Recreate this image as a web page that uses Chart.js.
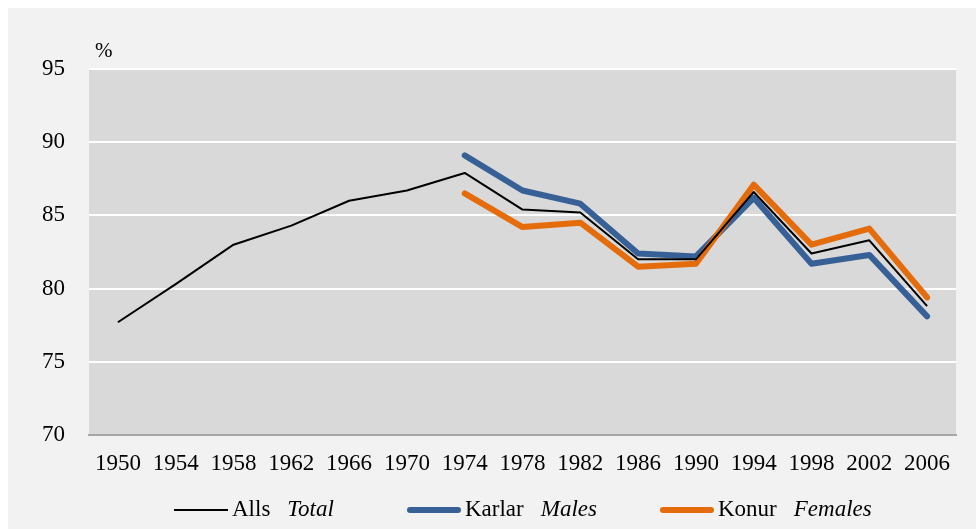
<!DOCTYPE html>
<html>
<head>
<meta charset="utf-8">
<script src="https://cdn.jsdelivr.net/npm/chart.js@4/dist/chart.umd.min.js"></script>
<style>
  html, body { margin: 0; padding: 0; background: #ffffff; }
  #wrap { width: 978px; height: 529px; position: relative; }
</style>
</head>
<body>
<div id="wrap"><canvas id="chart"></canvas></div>
<script>
// data
var years = ['1950','1954','1958','1962','1966','1970','1974','1978','1982','1986','1990','1994','1998','2002','2006'];
var total = [77.7, 80.3, 83.0, 84.3, 86.0, 86.7, 87.9, 85.4, 85.2, 82.0, 82.0, 86.6, 82.4, 83.3, 78.8];
var males = [null, null, null, null, null, null, 89.1, 86.7, 85.8, 82.4, 82.2, 86.2, 81.7, 82.3, 78.1];
var females = [null, null, null, null, null, null, 86.5, 84.2, 84.5, 81.5, 81.7, 87.1, 83.0, 84.1, 79.4];
var namesIs = ['Alls', 'Karlar', 'Konur'];
var namesEn = ['Total', 'Males', 'Females'];
var yTicks = [70, 75, 80, 85, 90, 95];

var serif = '"Liberation Serif", "Times New Roman", serif';

// panel + grey plot area behind the lines
var plotBg = {
  id: 'plotBg',
  beforeDraw: function(chart) {
    var a = chart.chartArea, ctx = chart.ctx;
    ctx.save();
    ctx.fillStyle = '#ffffff';
    ctx.fillRect(0, 0, chart.width, chart.height);
    ctx.fillStyle = '#f2f2f2';
    ctx.fillRect(8, 8, chart.width - 10, chart.height - 8);
    ctx.fillStyle = '#d9d9d9';
    ctx.fillRect(a.left, a.top, a.right - a.left, a.bottom - a.top);
    ctx.restore();
  }
};

// "%" unit + two-language legend
var extras = {
  id: 'extras',
  afterDraw: function(chart) {
    var ctx = chart.ctx, a = chart.chartArea;
    ctx.save();
    ctx.fillStyle = '#000';
    ctx.textBaseline = 'middle';
    ctx.font = '21px ' + serif;
    ctx.fillText('%', a.left + 6, a.top - 18);

    var xs = [174, 407, 660];
    var y = 510;
    chart.data.datasets.forEach(function(ds, i) {
      var x = xs[i];
      var thick = ds.borderWidth > 3;
      ctx.strokeStyle = ds.borderColor;
      ctx.lineWidth = ds.borderWidth;
      ctx.lineCap = thick ? 'round' : 'butt';
      ctx.beginPath();
      ctx.moveTo(x + (thick ? 3 : 0), y);
      ctx.lineTo(x + 54 - (thick ? 3 : 0), y);
      ctx.stroke();
      ctx.fillStyle = '#000';
      ctx.font = '23px ' + serif;
      ctx.fillText(namesIs[i], x + 58, y);
      var w = ctx.measureText(namesIs[i]).width;
      ctx.font = 'italic 23px ' + serif;
      ctx.fillText(namesEn[i], x + 58 + w + 17, y);
    });
    ctx.restore();
  }
};

new Chart(document.getElementById('chart'), {
  type: 'line',
  data: {
    labels: years,
    datasets: [{
      label: namesIs[0],
      data: total,
      borderColor: '#000000',
      borderWidth: 2,
      order: 0
    }, {
      label: namesIs[1],
      data: males,
      borderColor: '#376196',
      borderWidth: 6,
      borderCapStyle: 'round',
      order: 2
    }, {
      label: namesIs[2],
      data: females,
      borderColor: '#e46c0a',
      borderWidth: 6,
      borderCapStyle: 'round',
      order: 1
    }]
  },
  options: {
    responsive: true,
    maintainAspectRatio: false,
    animation: false,
    spanGaps: false,
    elements: {
      point: { radius: 0, hoverRadius: 0 },
      line: { tension: 0, borderJoinStyle: 'round', fill: false }
    },
    layout: { padding: { left: 0, right: 22, top: 69, bottom: 0 } },
    plugins: {
      legend: { display: false },
      tooltip: { enabled: false }
    },
    scales: {
      x: {
        offset: true,
        grid: { display: false, drawTicks: false },
        border: { display: true, color: '#a6a6a6', width: 2 },
        ticks: {
          color: '#000',
          font: { family: serif, size: 23 },
          padding: 15,
          maxRotation: 0,
          autoSkip: false
        },
        afterFit: function(scale) { scale.height = 94; }
      },
      y: {
        min: 70,
        max: 95,
        afterBuildTicks: function(scale) {
          scale.ticks = yTicks.map(function(v) { return { value: v }; });
        },
        grid: {
          drawTicks: false,
          lineWidth: 2,
          color: function(c) { return c.tick && c.tick.value === 70 ? 'rgba(0,0,0,0)' : '#ffffff'; }
        },
        border: { display: false },
        ticks: {
          color: '#000',
          font: { family: serif, size: 23 },
          padding: 24
        },
        afterFit: function(scale) { scale.width = 89; }
      }
    }
  },
  plugins: [plotBg, extras]
});
</script>
</body>
</html>
